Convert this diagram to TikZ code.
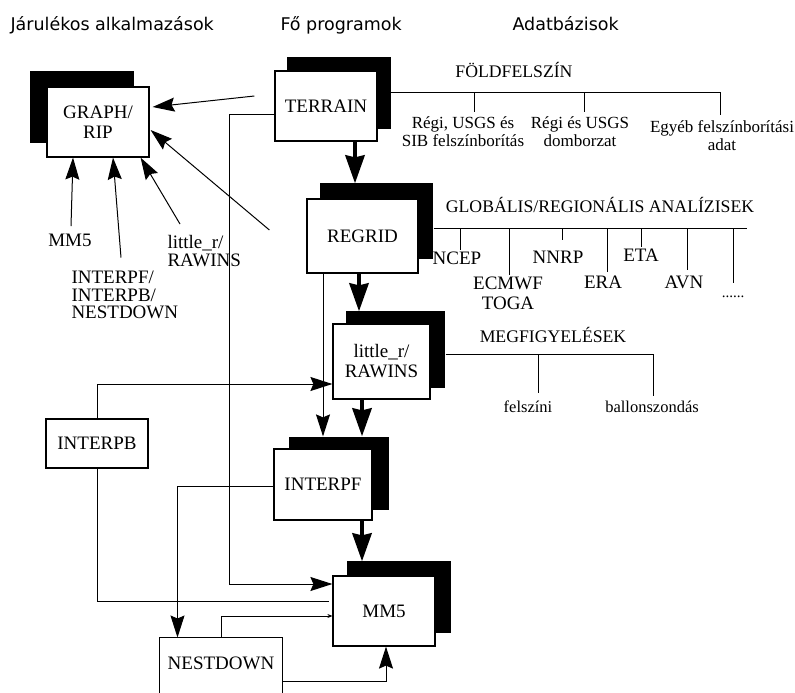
\documentclass[tikz,border=0pt]{standalone}
\usepackage{fontspec}
\setmainfont{Liberation Serif}
\newfontfamily\hdrfont{DejaVu Sans}
\usetikzlibrary{arrows.meta,shadows,calc}
\begin{document}
\begin{tikzpicture}[x=1pt,y=-1pt,line width=1pt,
  pbox/.style={draw,line width=1.2pt,fill=white,align=center,inner sep=0pt,font=\fontsize{19}{20}\selectfont},
  shad/.style 2 args={copy shadow={shadow xshift=#1pt,shadow yshift=#2pt,fill=black,draw=black}},
  hdr/.style={anchor=base west,inner sep=0pt,font=\hdrfont\fontsize{17.5}{19}\selectfont},
  grp/.style={inner sep=0pt,font=\fontsize{17.7}{19}\selectfont},
  dlbl/.style={inner sep=0pt,align=center,font=\fontsize{17}{18}\selectfont},
  glbl/.style={inner sep=0pt,align=center,font=\fontsize{19}{20}\selectfont},
  llbl/.style={inner sep=0pt,align=left,font=\fontsize{19}{17.5}\selectfont},
  thin/.style={-{Stealth[length=22pt,width=14pt,inset=3pt]}},
  tiny/.style={-{Stealth[length=5pt,width=4pt]}},
  thick/.style={line width=4.5pt,-{Stealth[length=28pt,width=19pt,inset=2pt]}}
]
\useasboundingbox (0,0) rectangle (795,693);
\clip (0,0) rectangle (795,693);

% headers
\node[hdr] (h1) at (10,31) {Járulékos alkalmazások};
\node[hdr] (h2) at (280,31) {Fő programok};
\node[hdr] (h3) at (512,31) {Adatbázisok};

% main boxes
\node[pbox,shad={-16}{15},minimum width=102pt,minimum height=70pt] (GRAPH) at (98,122) {GRAPH/\\RIP};
\node[pbox,shad={13}{13},minimum width=102pt,minimum height=70pt] (TERRAIN) at (326,106) {TERRAIN};
\node[pbox,shad={14}{15},minimum width=111pt,minimum height=74pt] (REGRID) at (362.5,236) {REGRID};
\node[pbox,shad={14}{12},minimum width=97pt,minimum height=75pt] (LR) at (381.5,361.5) {little\_r/\\RAWINS};
\node[pbox,shad={16}{11},minimum width=98pt,minimum height=71pt] (INTERPF) at (323,484.5) {INTERPF};
\node[pbox,shad={15}{14},minimum width=102pt,minimum height=70pt] (MM5) at (384,611) {MM5};
\node[pbox,minimum width=102pt,minimum height=49pt] (INTERPB) at (97,443.5) {INTERPB};
\node[inner sep=0pt,minimum width=122pt,minimum height=50pt,font=\fontsize{19}{20}\selectfont] (NEST) at (221,663) {NESTDOWN};
\draw[line width=1.2pt] ($(NEST.north west)+(0,60)$) -- (NEST.north west) -- (NEST.north east) -- ($(NEST.north east)+(0,60)$);

% left labels
\node[llbl] (lMM5) at (70,240) {MM5};
\node[llbl,anchor=west] (lIF) at (71,295) {INTERPF/\\INTERPB/\\NESTDOWN};
\node[llbl,anchor=west] (lLR) at (167,251) {little\_r/\\RAWINS};

% arrows to GRAPH/RIP
\coordinate (tg) at ($(TERRAIN.west)+(-20,-10)$);
\draw[thin] (tg) -- ($(GRAPH.east)+(3,-15)$);
\coordinate (rg) at ($(REGRID.west)+(-37,-6)$);
\draw[thin] (rg) -- ($(GRAPH.east)+(1,8)$);
\draw[thin] ($(lMM5.north)+(1,-7)$) -- ($(GRAPH.south)+(-25,0)$);
\draw[thin] ($(lIF.north west)+(50,-13)$) -- ($(GRAPH.south)+(15,0)$);
\draw[thin] ($(lLR.north west)+(13,-11)$) -- ($(GRAPH.south east)+(-9,0)$);

% main chain (thick)
\draw[thick] ($(TERRAIN.south)+(29,0)$) -- ($(REGRID.north)+(-7.5,-15)$);
\draw[thick] ($(REGRID.south)+(-3.5,0)$) -- ($(LR.north)+(-22.5,-12)$);
\draw[thick] ($(LR.south)+(-19.5,0)$) -- ($(INTERPF.north)+(39,-12)$);
\draw[thick] ($(INTERPF.south)+(39,0)$) -- ($(MM5.north)+(-22,-14)$);

% thin connectors
\draw[thin] ($(TERRAIN.west)+(0,8)$) -| ($(MM5.west)+(-103,-27)$) -- ($(MM5.west)+(0,-27)$);
\draw[thin] ($(REGRID.south)+(-39.5,0)$) -- ($(INTERPF.north)+(0,-12)$);
\draw[thin] (INTERPB.north) |- ($(LR.west)+(0,22.5)$);
\draw (INTERPB.south) |- ($(MM5.west)+(-3,-10)$);
\draw[thin] ($(INTERPF.west)+(0,1.5)$) -| ($(NEST.north west)+(18,0)$);
\draw[tiny] (NEST.north) |- ($(MM5.west)+(0,5)$);
\draw[thin] ($(NEST.north east)+(0,44)$) -| ($(MM5.south)+(2,0)$);

% FÖLDFELSZÍN
\node[grp] (gF) at (514,70) {FÖLDFELSZÍN};
\coordinate (fL) at ($(TERRAIN.east)+(13,-14)$);
\coordinate (fR) at (720,92);
\draw (fL) -- (fR);
\coordinate (f1) at (474,92);
\coordinate (f2) at (584,92);
\node[dlbl] (d1) at (463,132) {Régi, USGS és\\SIB felszínborítás};
\node[dlbl] (d2) at (580,132) {Régi és USGS\\domborzat};
\node[dlbl] (d3) at (722,136) {Egyéb felszínborítási\\adat};
\draw (f1) -- ++(0,20);
\draw (f2) -- ++(0,20);
\draw (fR) -- ++(0,23);

% GLOBÁLIS
\node[grp] (gG) at (600,205) {GLOBÁLIS/REGIONÁLIS ANALÍZISEK};
\coordinate (gL) at ($(REGRID.east)+(15,-8)$);
\coordinate (gR) at (747,228);
\draw (gL) -- (gR);
\draw (460,228) -- ++(0,22);
\draw (509,228) -- ++(0,47);
\draw (562,228) -- ++(0,12);
\draw (607,228) -- ++(0,44);
\draw (641,228) -- ++(0,19);
\draw (687,228) -- ++(0,42);
\draw (733,228) -- ++(0,55);
\node[glbl] (nNCEP) at (457,258) {NCEP};
\node[glbl] (nEC) at (508,293) {ECMWF\\TOGA};
\node[glbl] (nNNRP) at (558,257) {NNRP};
\node[glbl] (nERA) at (603,282) {ERA};
\node[glbl] (nETA) at (641,255) {ETA};
\node[glbl] (nAVN) at (684,282) {AVN};
\node[glbl,anchor=base,font=\fontsize{15}{16}\selectfont] (nDots) at (733,297) {......};

% MEGFIGYELÉSEK
\node[grp] (gM) at (553,335) {MEGFIGYELÉSEK};
\coordinate (mL) at ($(LR.east)+(15,-7.5)$);
\coordinate (mR) at (653,354);
\draw (mL) -- (mR);
\draw (538,354) -- ++(0,39);
\draw (mR) -- ++(0,42);
\node[dlbl,font=\fontsize{16.5}{18}\selectfont] (m1) at (528,407) {felszíni};
\node[dlbl,font=\fontsize{16.5}{18}\selectfont] (m2) at (652,407) {ballonszondás};
\end{tikzpicture}
\end{document}
